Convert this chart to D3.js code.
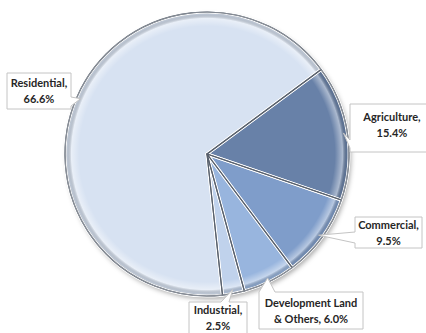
<!DOCTYPE html>
<html>
<head>
<meta charset="utf-8">
<script src="https://cdn.jsdelivr.net/npm/d3@7"></script>
<style>
  html, body { margin: 0; padding: 0; background: #fff; }
  svg { display: block; }
</style>
</head>
<body>
<div id="chart"></div>
<script>
// Land use shares (%)
const categories = ["Agriculture", "Commercial", "Development Land & Others", "Industrial", "Residential"];
const values = [15.4, 9.5, 6.0, 2.5, 66.6];
const colors = ["#6781a8", "#7f9dca", "#98b5de", "#c0d2ec", "#d7e2f2"];

const W = 426, H = 333;
const cx = 207, cy = 154, R = 142;
const startDeg = 53.5;

const svg = d3.select("#chart").append("svg")
  .attr("width", W).attr("height", H)
  .style("font-family", "Lato, 'Open Sans', sans-serif");

const defs = svg.append("defs");
const shadow = defs.append("filter").attr("id", "shadow")
  .attr("x", "-20%").attr("y", "-20%").attr("width", "140%").attr("height", "140%");
shadow.append("feDropShadow").attr("dx", 2).attr("dy", 3)
  .attr("stdDeviation", 2.5).attr("flood-color", "#000").attr("flood-opacity", 0.35);

// bevel shading across each slice
const bevel = defs.append("radialGradient").attr("id", "bevel")
  .attr("gradientUnits", "userSpaceOnUse")
  .attr("cx", 0).attr("cy", 0).attr("r", R);
bevel.append("stop").attr("offset", "0.9").attr("stop-color", "#fff").attr("stop-opacity", 0);
bevel.append("stop").attr("offset", "0.955").attr("stop-color", "#fff").attr("stop-opacity", 0.45);
bevel.append("stop").attr("offset", "0.985").attr("stop-color", "#000").attr("stop-opacity", 0.12);
bevel.append("stop").attr("offset", "1").attr("stop-color", "#000").attr("stop-opacity", 0.35);

const pie = d3.pie().sort(null).value(d => d)
  .startAngle(startDeg * Math.PI / 180)
  .endAngle(startDeg * Math.PI / 180 + 2 * Math.PI);
const arcs = pie(values);
const arc = d3.arc().innerRadius(0).outerRadius(R);
const rimArc = d3.arc().innerRadius(R - 4).outerRadius(R - 4);

const g = svg.append("g").attr("transform", `translate(${cx},${cy})`);

g.append("g").attr("filter", "url(#shadow)")
  .selectAll("path").data(arcs).join("path")
  .attr("d", arc)
  .attr("fill", (d, i) => colors[i]);

g.append("g").selectAll("path").data(arcs).join("path")
  .attr("d", arc)
  .attr("fill", "url(#bevel)");

// light edge along each slice border, then a dark separator
g.append("g").selectAll("path").data(arcs).join("path")
  .attr("d", arc)
  .attr("fill", "none")
  .attr("stroke", "#ffffff")
  .attr("stroke-width", 3)
  .attr("stroke-linejoin", "round");
g.append("g").selectAll("path").data(arcs).join("path")
  .attr("d", arc)
  .attr("fill", "none")
  .attr("stroke", "#59616d")
  .attr("stroke-width", 1.1)
  .attr("stroke-linejoin", "round");

g.append("circle").attr("r", R).attr("fill", "none")
  .attr("stroke", "#8a9099").attr("stroke-width", 1.2);

// Callout labels: box, tail side, tail span, first baseline
const layout = [
  { lines: ["Agriculture,", "{v}"], x: 350, y: 104, w: 84, h: 48, side: "left", t: [36, 44], base: 121 },
  { lines: ["Commercial,", "{v}"], x: 355, y: 217, w: 67, h: 31, side: "left", t: [15, 26], base: 229 },
  { lines: ["Development Land", "& Others, {v}"], x: 259, y: 292, w: 104, h: 37, side: "top", t: [0, 16], base: 307 },
  { lines: ["Industrial,", "{v}"], x: 189, y: 302, w: 58, h: 34, side: "top", t: [32, 40], base: 314 },
  { lines: ["Residential,", "{v}"], x: 7, y: 73, w: 64, h: 36, side: "right", t: [24, 33], base: 87 }
];

function calloutPath(b, ax, ay) {
  const { x, y, w, h, side, t } = b;
  const p = [];
  if (side === "top") {
    p.push([x, y], [x + t[0], y], [ax, ay], [x + t[1], y], [x + w, y], [x + w, y + h], [x, y + h]);
  } else if (side === "left") {
    p.push([x, y], [x + w, y], [x + w, y + h], [x, y + h], [x, y + t[1]], [ax, ay], [x, y + t[0]]);
  } else if (side === "right") {
    p.push([x, y], [x + w, y], [x + w, y + t[0]], [ax, ay], [x + w, y + t[1]], [x + w, y + h], [x, y + h]);
  }
  return "M" + p.map(q => q.join(",")).join("L") + "Z";
}

const labels = svg.append("g");
arcs.forEach((a, i) => {
  const b = layout[i];
  const mid = (a.startAngle + a.endAngle) / 2;
  const [ax, ay] = rimArc.centroid({ startAngle: mid, endAngle: mid });
  labels.append("path")
    .attr("d", calloutPath(b, ax + cx, ay + cy))
    .attr("fill", "#fff")
    .attr("stroke", "#c4c4c4")
    .attr("stroke-width", 1);
  const vText = values[i].toFixed(1) + "%";
  const lineH = 15.5;
  b.lines.forEach((ln, k) => {
    labels.append("text")
      .attr("x", b.x + b.w / 2)
      .attr("y", b.base + k * lineH)
      .attr("text-anchor", "middle")
      .attr("font-size", 11)
      .attr("font-weight", "bold")
      .attr("fill", "#262626")
      .text(ln.replace("{v}", vText));
  });
});
</script>
</body>
</html>
